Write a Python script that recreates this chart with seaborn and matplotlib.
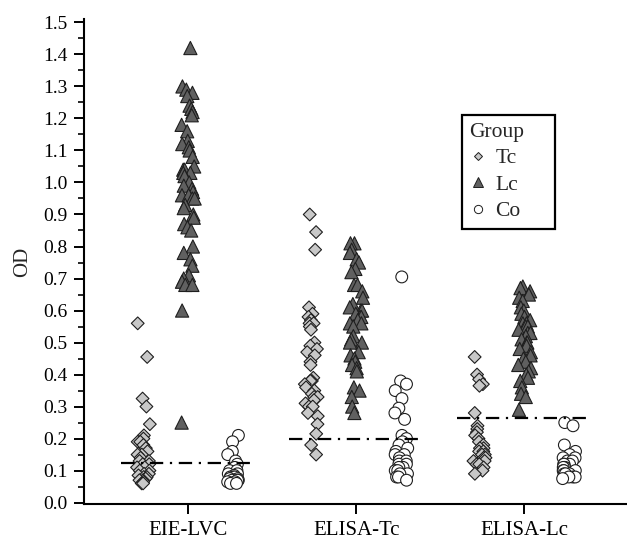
import numpy as np
import pandas as pd
import seaborn as sns
import matplotlib.pyplot as plt
from matplotlib.ticker import MultipleLocator, FormatStrFormatter
from matplotlib.lines import Line2D

# assays on the x axis and the three groups
assays = ["EIE-LVC", "ELISA-Tc", "ELISA-Lc"]
groups = ["Tc", "Lc", "Co"]

# OD values
eie_tc = [0.56, 0.455, 0.325, 0.30, 0.245, 0.21, 0.20, 0.19, 0.19, 0.18, 0.17, 0.16, 0.15,
          0.15, 0.14, 0.13, 0.13, 0.12, 0.12, 0.11, 0.11, 0.10, 0.10, 0.09, 0.09, 0.085,
          0.08, 0.08, 0.075, 0.07, 0.07, 0.065, 0.06, 0.06]
eie_lc = [1.42, 1.30, 1.29, 1.28, 1.27, 1.24, 1.23, 1.22, 1.21, 1.18, 1.16, 1.13, 1.12,
          1.11, 1.10, 1.08, 1.05, 1.04, 1.04, 1.03, 1.03, 1.02, 1.00, 0.99, 0.98, 0.97,
          0.96, 0.96, 0.95, 0.95, 0.93, 0.92, 0.90, 0.89, 0.87, 0.86, 0.85, 0.80, 0.78,
          0.76, 0.74, 0.71, 0.70, 0.69, 0.68, 0.68, 0.60, 0.25]
eie_co = [0.21, 0.19, 0.16, 0.15, 0.13, 0.12, 0.11, 0.10, 0.10, 0.09, 0.09, 0.085, 0.08,
          0.08, 0.08, 0.075, 0.075, 0.07, 0.07, 0.07, 0.065, 0.065, 0.06, 0.06]

etc_tc = [0.90, 0.845, 0.79, 0.61, 0.59, 0.58, 0.57, 0.56, 0.56, 0.55, 0.54, 0.50, 0.49,
          0.48, 0.47, 0.46, 0.44, 0.43, 0.39, 0.38, 0.38, 0.37, 0.36, 0.35, 0.34, 0.33,
          0.33, 0.32, 0.31, 0.30, 0.30, 0.28, 0.27, 0.245, 0.215, 0.18, 0.15]
etc_lc = [0.81, 0.81, 0.79, 0.78, 0.76, 0.75, 0.73, 0.72, 0.68, 0.68, 0.66, 0.64, 0.62,
          0.61, 0.60, 0.60, 0.59, 0.58, 0.58, 0.57, 0.56, 0.56, 0.55, 0.52, 0.51, 0.50,
          0.50, 0.47, 0.46, 0.45, 0.44, 0.43, 0.42, 0.41, 0.36, 0.35, 0.33, 0.30, 0.28]
etc_co = [0.705, 0.38, 0.37, 0.35, 0.325, 0.295, 0.28, 0.26, 0.21, 0.20, 0.19, 0.18, 0.17,
          0.16, 0.15, 0.15, 0.14, 0.13, 0.13, 0.12, 0.12, 0.11, 0.11, 0.10, 0.10, 0.09,
          0.09, 0.08, 0.08, 0.07]

elc_tc = [0.455, 0.40, 0.385, 0.37, 0.365, 0.28, 0.24, 0.23, 0.22, 0.21, 0.20, 0.19,
          0.18, 0.17, 0.17, 0.16, 0.16, 0.15, 0.15, 0.14, 0.14, 0.13, 0.13, 0.12, 0.12,
          0.11, 0.10, 0.09]
elc_lc = [0.675, 0.67, 0.66, 0.65, 0.64, 0.63, 0.61, 0.60, 0.59, 0.58, 0.57, 0.56, 0.56,
          0.55, 0.55, 0.54, 0.53, 0.53, 0.52, 0.51, 0.50, 0.50, 0.49, 0.48, 0.47, 0.46,
          0.45, 0.44, 0.43, 0.42, 0.41, 0.40, 0.39, 0.38, 0.36, 0.34, 0.33, 0.29]
elc_co = [0.25, 0.24, 0.18, 0.16, 0.15, 0.14, 0.14, 0.13, 0.13, 0.12, 0.12, 0.12, 0.11,
          0.11, 0.11, 0.10, 0.10, 0.10, 0.09, 0.09, 0.09, 0.08, 0.08, 0.08, 0.075]

# cut-off lines per assay
cutoffs = [0.125, 0.20, 0.265]

series = {
    ("EIE-LVC", "Tc"): eie_tc, ("EIE-LVC", "Lc"): eie_lc, ("EIE-LVC", "Co"): eie_co,
    ("ELISA-Tc", "Tc"): etc_tc, ("ELISA-Tc", "Lc"): etc_lc, ("ELISA-Tc", "Co"): etc_co,
    ("ELISA-Lc", "Tc"): elc_tc, ("ELISA-Lc", "Lc"): elc_lc, ("ELISA-Lc", "Co"): elc_co,
}
rows = []
for (assay, grp), vals in series.items():
    for v in vals:
        rows.append((assay, grp, v))
df = pd.DataFrame(rows, columns=["assay", "group", "od"])

sns.set_theme(style="ticks")
plt.rcParams["font.family"] = ["Liberation Serif", "DejaVu Serif"]
plt.rcParams["font.size"] = 13

palette = {"Tc": "#c8c8c8", "Lc": "#606060", "Co": "#ffffff"}
markers = {"Tc": "D", "Lc": "^", "Co": "o"}
sizes = {"Tc": 6.5, "Lc": 9.5, "Co": 8.5}

fig = plt.figure(figsize=(6.27, 5.41), dpi=100)
ax = fig.add_axes([0.134, 0.068, 0.866, 0.8965])

np.random.seed(7)
for g in groups:
    sns.stripplot(data=df[df["group"] == g], x="assay", y="od", hue="group",
                  order=assays, hue_order=groups, dodge=True, jitter=0.12,
                  palette=palette, marker=markers[g], size=sizes[g],
                  edgecolor="#1e1e1e", linewidth=0.8, legend=False, ax=ax)

# dash-dot cut-off lines
for i, c in enumerate(cutoffs):
    ax.hlines(c, i - 0.4, i + 0.4, colors="black", linewidth=1.6,
              linestyles=(0, (6, 3, 1, 3)), zorder=5)

ax.set_xlim(-0.62, 2.61)
ax.set_ylim(-0.005, 1.51)
ax.yaxis.set_major_locator(MultipleLocator(0.1))
ax.yaxis.set_minor_locator(MultipleLocator(0.05))
ax.yaxis.set_major_formatter(FormatStrFormatter("%.1f"))
ax.set_xlabel("")
ax.set_ylabel("OD", fontsize=15, labelpad=8)
ax.tick_params(axis="both", labelsize=14, colors="black", width=1.4, length=7, direction="out")
ax.tick_params(axis="x", labelsize=15, pad=5)
ax.tick_params(axis="y", which="major", pad=5)
ax.tick_params(axis="y", which="minor", width=1.4, length=4)
sns.despine(ax=ax)
for s in ["left", "bottom"]:
    ax.spines[s].set_linewidth(1.5)
    ax.spines[s].set_color("black")

handles = [Line2D([], [], ls="none", marker=markers[g], markerfacecolor=palette[g],
                  markeredgecolor="#1e1e1e", markeredgewidth=0.7,
                  markersize=sizes[g] * 0.7) for g in groups]
leg = ax.legend(handles, groups, title="Group", loc="upper left",
                bbox_to_anchor=(462 / 627, 1 - 115 / 541, 93 / 627, 0.0),
                bbox_transform=fig.transFigure, mode="expand",
                frameon=True, fancybox=False, edgecolor="black", framealpha=1,
                fontsize=15.5, title_fontsize=15.5, alignment="left",
                handlelength=0.8, handletextpad=0.4, labelspacing=0.3,
                borderpad=0.35, borderaxespad=0)
leg.get_frame().set_linewidth(1.6)

fig.savefig("out.png", dpi=100)
